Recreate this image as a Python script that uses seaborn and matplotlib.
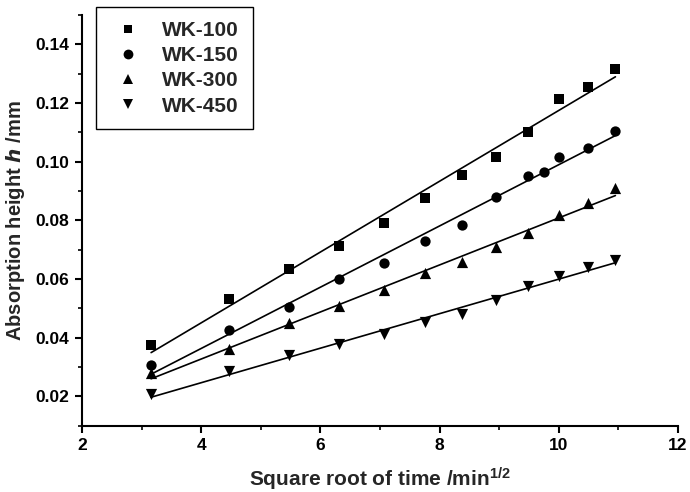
import numpy as np
import pandas as pd
import matplotlib
matplotlib.use("Agg")
import matplotlib.pyplot as plt
import seaborn as sns
from matplotlib.ticker import MultipleLocator
from matplotlib.lines import Line2D

# ---- data ----
x_common = [3.16, 4.47, 5.48, 6.32, 7.07, 7.75, 8.37, 8.94, 9.49, 10.0, 10.49, 10.95]
x_150 = [3.16, 4.47, 5.48, 6.32, 7.07, 7.75, 8.37, 8.94, 9.49, 9.75, 10.0, 10.49, 10.95]

wk100 = [0.0374, 0.0531, 0.0634, 0.0714, 0.0790, 0.0876, 0.0956, 0.1016, 0.1100, 0.1215, 0.1254, 0.1316]
wk150 = [0.0306, 0.0426, 0.0505, 0.0600, 0.0656, 0.0730, 0.0783, 0.0880, 0.0950, 0.0965, 0.1016, 0.1046, 0.1105]
wk300 = [0.0281, 0.0363, 0.0450, 0.0509, 0.0562, 0.0619, 0.0657, 0.0708, 0.0758, 0.0819, 0.0859, 0.0909]
wk450 = [0.0207, 0.0285, 0.0340, 0.0378, 0.0412, 0.0452, 0.0480, 0.0528, 0.0576, 0.0611, 0.0642, 0.0665]

series_names = ["WK-100", "WK-150", "WK-300", "WK-450"]
series_x = [x_common, x_150, x_common, x_common]
series_y = [wk100, wk150, wk300, wk450]
markers = ["s", "o", "^", "v"]
sizes = [42, 55, 65, 65]

x_ticks = [2, 4, 6, 8, 10, 12]
y_ticks = [0.02, 0.04, 0.06, 0.08, 0.10, 0.12, 0.14]

sns.set_theme(style="ticks")
plt.rcParams["font.family"] = ["Liberation Sans", "DejaVu Sans"]
plt.rcParams["font.weight"] = "bold"
plt.rcParams["mathtext.default"] = "regular"

fig = plt.figure(figsize=(6.9, 4.92), dpi=100)
ax = fig.add_axes([0.1188, 0.1348, 0.8638, 0.8347])

handles = []
for name, xs, ys, m, s in zip(series_names, series_x, series_y, markers, sizes):
    df = pd.DataFrame({"x": xs, "y": ys})
    sns.regplot(data=df, x="x", y="y", ax=ax, ci=None, marker=m, color="black",
                scatter_kws={"s": s, "linewidths": 0, "zorder": 3, "alpha": 1},
                line_kws={"linewidth": 1.2, "zorder": 2})
    handles.append(Line2D([], [], marker=m, color="black", linestyle="none",
                          markersize=np.sqrt(s) * 0.95, markeredgewidth=0, label=name))

ax.set_xlim(2, 12)
ax.set_ylim(0.01, 0.15)
ax.set_xticks(x_ticks)
ax.set_yticks(y_ticks)
ax.set_xticklabels([str(v) for v in x_ticks])
ax.set_yticklabels([f"{v:.2f}" for v in y_ticks])
ax.xaxis.set_minor_locator(MultipleLocator(1))
ax.yaxis.set_minor_locator(MultipleLocator(0.01))

for side in ["top", "right"]:
    ax.spines[side].set_visible(False)
for side in ["left", "bottom"]:
    ax.spines[side].set_linewidth(1.5)
    ax.spines[side].set_color("black")

ax.tick_params(axis="both", which="major", direction="out", length=5, width=1.5,
               labelsize=12.5, colors="black", pad=4)
ax.tick_params(axis="both", which="minor", direction="out", length=3, width=1.2, colors="black")
for lab in ax.get_xticklabels() + ax.get_yticklabels():
    lab.set_fontweight("bold")

ax.set_xlabel("Square root of time /min$^{1/2}$", fontsize=15, fontweight="bold", labelpad=9)
ax.set_ylabel("Absorption height $\\mathbf{\\mathit{h}}$ /mm", fontsize=14.5, fontweight="bold", labelpad=6)

leg = fig.legend(handles=handles, loc="upper left", bbox_to_anchor=(0.1387, 0.985),
                 bbox_transform=fig.transFigure, frameon=True, fancybox=False,
                 prop={"size": 15, "weight": "bold"}, labelspacing=0.3,
                 handlelength=1.8, handletextpad=0.75, borderpad=0.65, borderaxespad=0)
leg.get_frame().set_edgecolor("black")
leg.get_frame().set_linewidth(1.0)
leg.get_frame().set_facecolor("white")
leg.get_frame().set_alpha(1)

ax.set_facecolor("white")
fig.patch.set_facecolor("white")
fig.savefig("out.png", dpi=100)
